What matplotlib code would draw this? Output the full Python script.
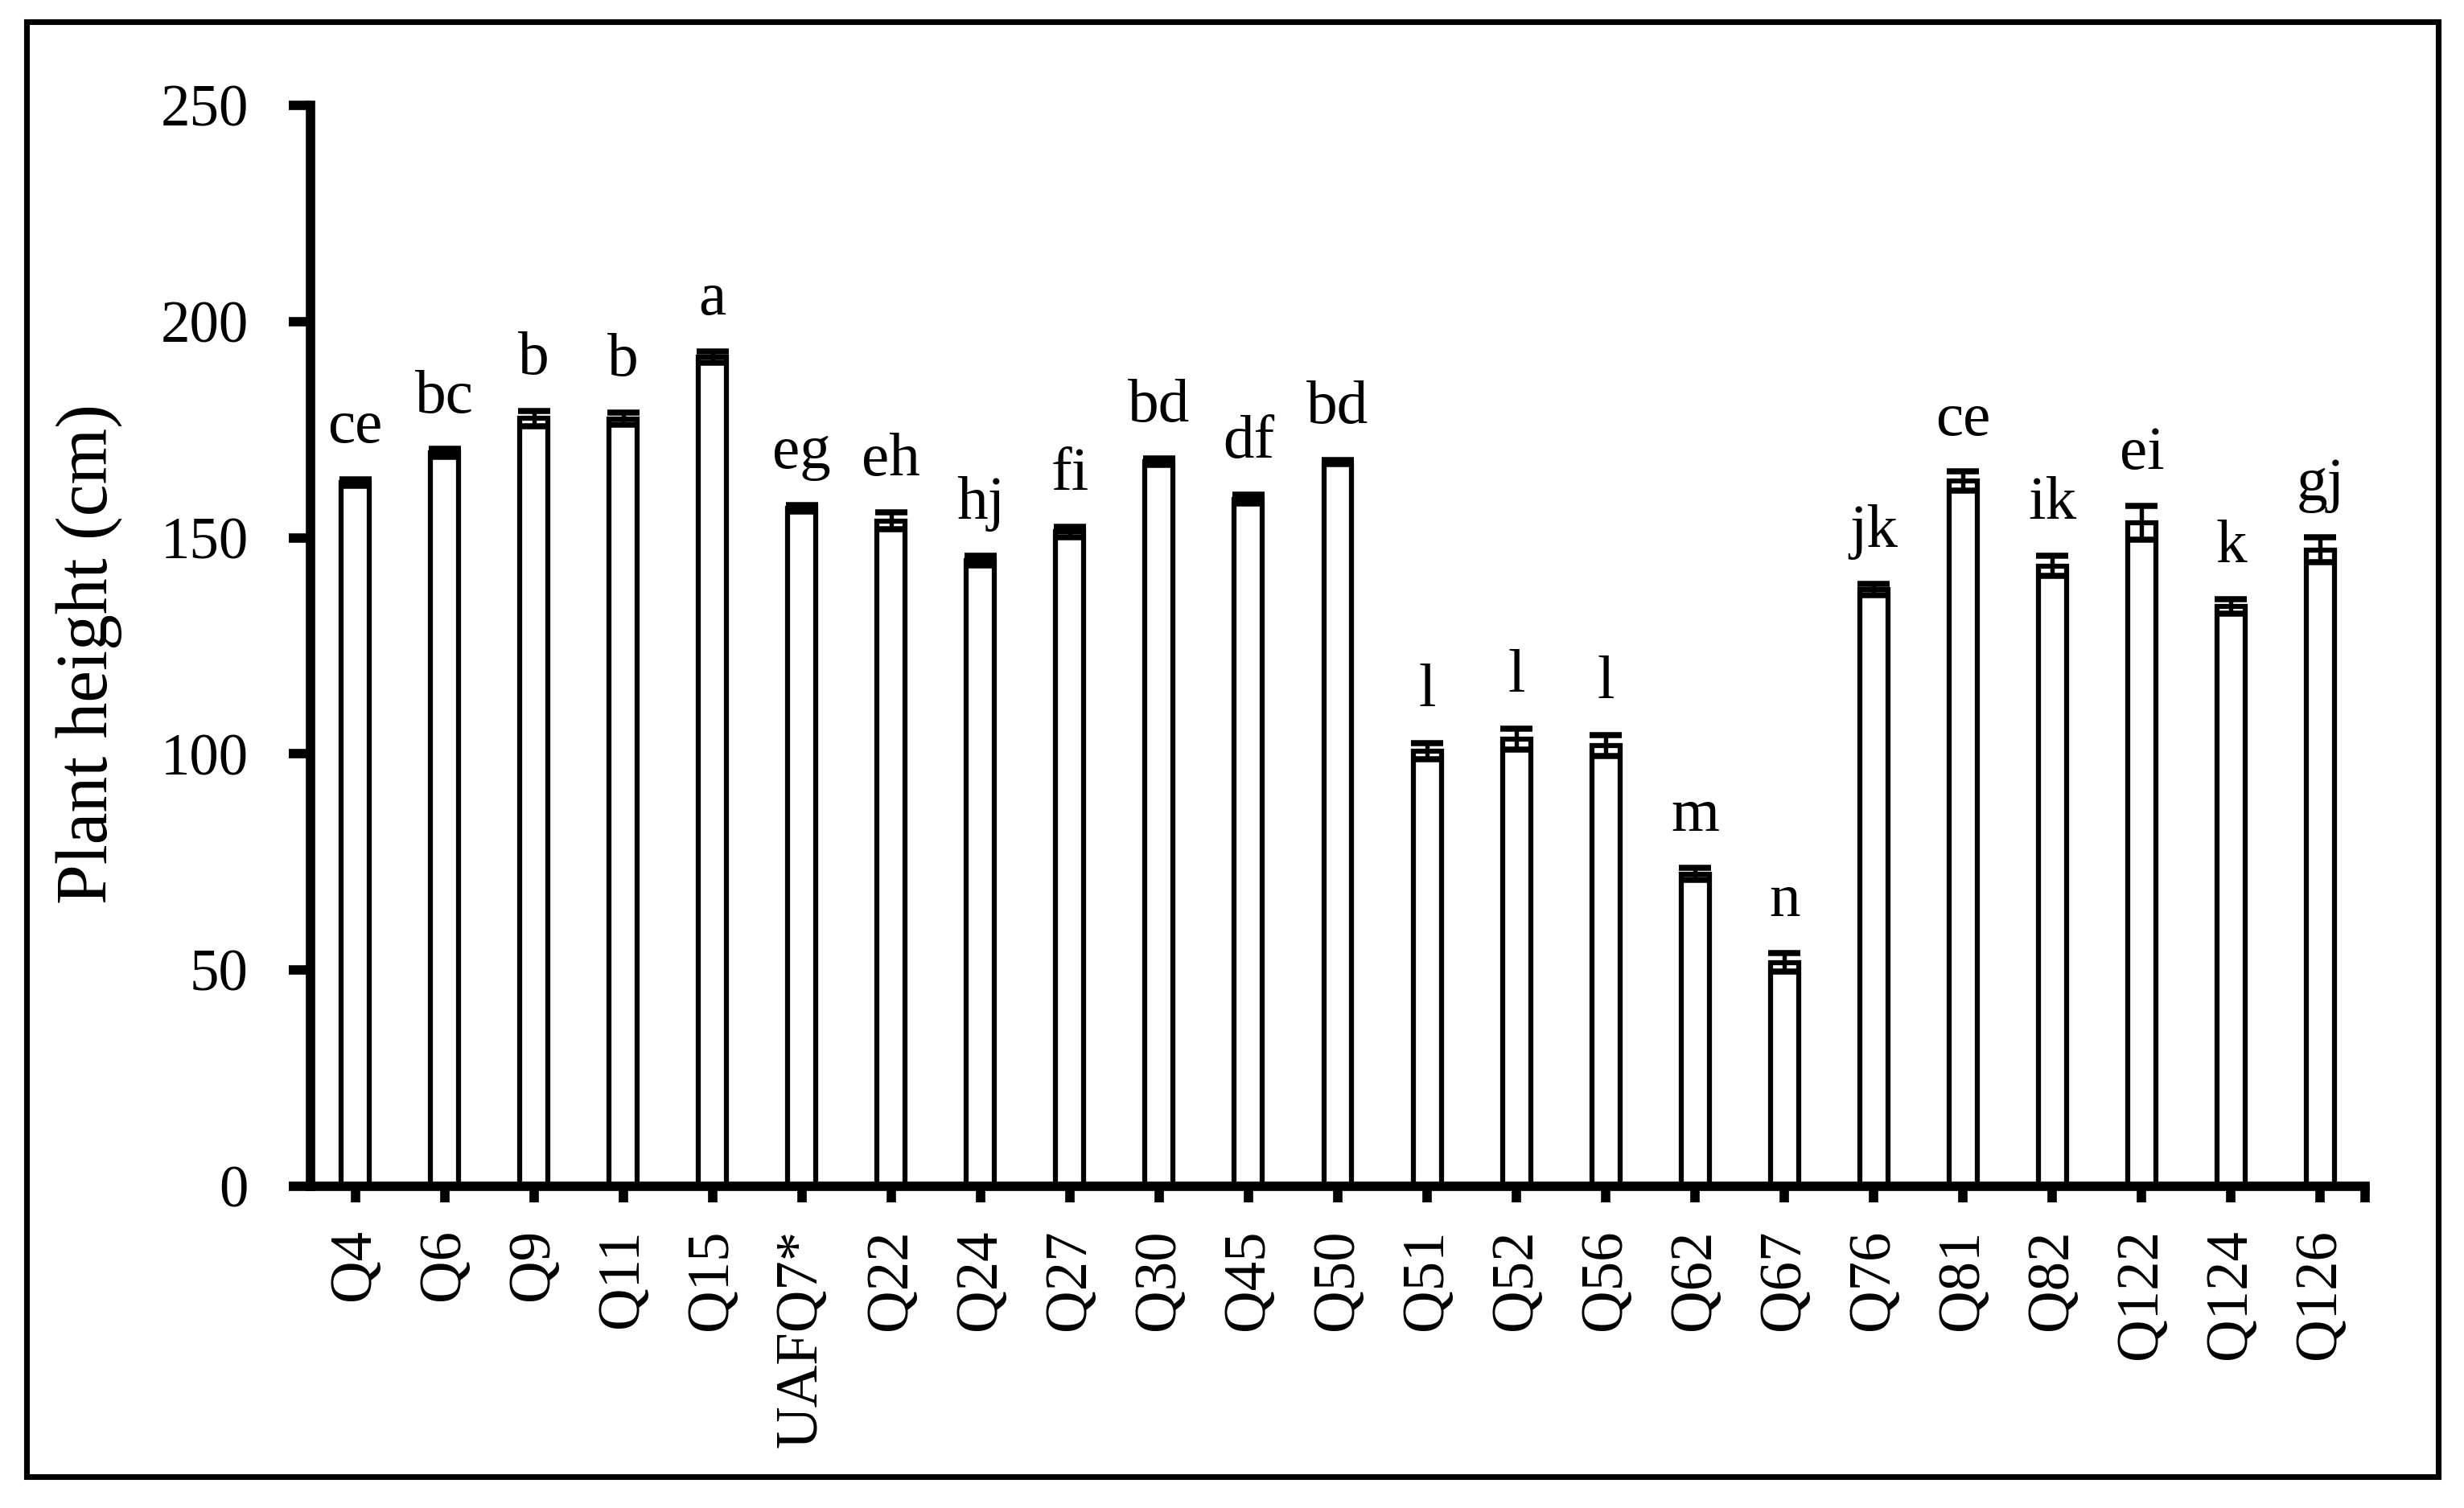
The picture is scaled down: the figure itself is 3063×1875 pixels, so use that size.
import matplotlib
matplotlib.use("Agg")
import matplotlib.pyplot as plt
from matplotlib.patches import Rectangle
import numpy as np

plt.rcParams['font.family'] = ['Liberation Serif', 'DejaVu Serif']

categories = ['Q4', 'Q6', 'Q9', 'Q11', 'Q15', 'UAFQ7*', 'Q22', 'Q24', 'Q27', 'Q30',
              'Q45', 'Q50', 'Q51', 'Q52', 'Q56', 'Q62', 'Q67', 'Q76', 'Q81', 'Q82',
              'Q122', 'Q124', 'Q126']
heights = [162.8, 169.6, 177.6, 177.5, 191.8, 156.8, 153.9, 144.7, 151.4, 167.6,
           158.9, 167.5, 100.6, 103.4, 101.9, 72.2, 51.8, 138.0, 163.1, 143.5,
           153.5, 134.1, 147.2]
errors = [0.7, 0.9, 1.8, 1.4, 1.3, 0.7, 2.0, 1.1, 1.2, 0.8,
          1.05, 0.5, 1.9, 2.4, 2.4, 1.4, 2.1, 1.3, 2.2, 2.3,
          3.9, 1.7, 2.9]
letters = ['ce', 'bc', 'b', 'b', 'a', 'eg', 'eh', 'hj', 'fi', 'bd', 'df', 'bd',
           'l', 'l', 'l', 'm', 'n', 'jk', 'ce', 'ik', 'ei', 'k', 'gj']
yticks = [0, 50, 100, 150, 200, 250]

W, H = 3063, 1875
fig = plt.figure(figsize=(W / 300, H / 300), dpi=300)
ax = fig.add_axes([386 / W, 1 - 1475 / H, (2940 - 386) / W, (1475 - 131) / H])

x = np.arange(len(categories))
ax.bar(x, heights, width=0.315, color='white', edgecolor='black', linewidth=1.5, zorder=2)
ax.errorbar(x, heights, yerr=errors, fmt='none', ecolor='black', elinewidth=1.3,
            capsize=4.8, capthick=1.8, zorder=3)

for xi, h, e, lab in zip(x, heights, errors, letters):
    ax.annotate(lab, (xi, h + e), xytext=(0, 11), textcoords='offset points',
                ha='center', va='baseline', fontsize=18.5)

ax.set_xlim(-0.5, 22.5)
ax.set_ylim(0, 250)
ax.set_yticks(yticks)
ax.set_yticklabels([str(v) for v in yticks])
ax.set_xticks(x)
ax.set_xticklabels(categories, rotation=90)
ax.set_xticks([22.5], minor=True)

for s in ['top', 'right']:
    ax.spines[s].set_visible(False)
for s in ['left', 'bottom']:
    ax.spines[s].set_linewidth(2.8)

ax.tick_params(axis='y', which='major', length=6.5, width=2.8, pad=12, labelsize=17.5)
ax.tick_params(axis='x', which='major', length=4.8, width=2.8, pad=8, labelsize=17.5)
ax.tick_params(axis='x', which='minor', length=4.8, width=2.8)

fig.text(111 / W, 1 - 813 / H, 'Plant height (cm)', rotation=90, ha='center',
         va='center', fontsize=21.5)

fig.patches.append(Rectangle((33 / W, 1 - 1836 / H), (3031 - 33) / W, (1836 - 27) / H,
                             transform=fig.transFigure, fill=False, lw=1.7,
                             edgecolor='black'))

fig.savefig('out.png', dpi=300, facecolor='white')
